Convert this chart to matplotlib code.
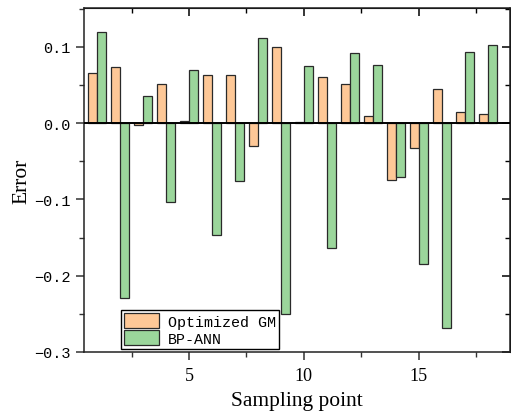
import numpy as np
import matplotlib
matplotlib.use("Agg")
import matplotlib.pyplot as plt
from matplotlib.ticker import MultipleLocator, FixedLocator

points = np.arange(1, 19)
optimized_gm = [0.066, 0.074, -0.003, 0.051, 0.003, 0.063, 0.063, -0.030, 0.100,
                0.001, 0.061, 0.052, 0.010, -0.074, -0.032, 0.045, 0.014, 0.012]
bp_ann = [0.119, -0.229, 0.035, -0.103, 0.070, -0.146, -0.076, 0.112, -0.250,
          0.075, -0.163, 0.092, 0.076, -0.070, -0.185, -0.269, 0.093, 0.102]
series_labels = ["Optimized GM", "BP-ANN"]
y_ticks = [-0.3, -0.2, -0.1, 0.0, 0.1]
y_tick_labels = ["\u22120.3", "\u22120.2", "\u22120.1", "0.0", "0.1"]
x_ticks = [5, 10, 15]

orange = "#FEC897"
green = "#9BD69B"
edge = "#2a2a2a"

fig = plt.figure(figsize=(5.11, 4.14), dpi=100)
ax = fig.add_axes([84 / 511, 1 - 353 / 414, (510 - 84) / 511, (353 - 9) / 414])

w = 0.4
ax.bar(points - w / 2, optimized_gm, width=w, color=orange, edgecolor=edge,
       linewidth=0.9, label=series_labels[0], zorder=2)
ax.bar(points + w / 2, bp_ann, width=w, color=green, edgecolor=edge,
       linewidth=0.9, label=series_labels[1], zorder=2)
ax.axhline(0, color="black", linewidth=1.4, zorder=3)

ax.set_xlim(0.43, 18.97)
ax.set_ylim(-0.3, 0.151)

ax.xaxis.set_major_locator(FixedLocator(x_ticks))
ax.xaxis.set_minor_locator(MultipleLocator(2.5))
ax.yaxis.set_major_locator(FixedLocator(y_ticks))
ax.yaxis.set_minor_locator(MultipleLocator(0.05))
ax.set_yticklabels(y_tick_labels)
ax.set_xticklabels([str(t) for t in x_ticks])

for lbl in ax.get_yticklabels():
    lbl.set_fontfamily("Liberation Mono")
    lbl.set_fontsize(11)
for lbl in ax.get_xticklabels():
    lbl.set_fontfamily("Liberation Serif")
    lbl.set_fontsize(13)

ax.tick_params(axis="both", which="major", direction="out", length=6, width=1.1,
               color="#333333")
ax.tick_params(axis="both", which="minor", direction="out", length=3.5, width=1.0,
               color="#333333")
ax.tick_params(axis="x", which="major", pad=4.5)

# mirrored, inward ticks on the top and right
top = ax.secondary_xaxis("top")
top.xaxis.set_major_locator(FixedLocator(x_ticks))
top.xaxis.set_minor_locator(MultipleLocator(2.5))
top.tick_params(which="major", direction="in", length=6, width=1.1, labeltop=False)
top.tick_params(which="minor", direction="in", length=3.5, width=1.0)
top.set_xticklabels([])
right = ax.secondary_yaxis("right")
right.yaxis.set_major_locator(FixedLocator(y_ticks))
right.yaxis.set_minor_locator(MultipleLocator(0.05))
right.tick_params(which="major", direction="in", length=6, width=1.1)
right.tick_params(which="minor", direction="in", length=3.5, width=1.0)
right.set_yticklabels([])

for s in ax.spines.values():
    s.set_linewidth(1.1)
    s.set_color("#222222")

ax.set_xlabel("Sampling point", fontfamily="Liberation Serif", fontsize=15.5)
ax.set_ylabel("Error", fontfamily="Liberation Serif", fontsize=15.5)
ax.xaxis.set_label_coords(0.5, -0.113)
ax.yaxis.set_label_coords(-0.124, 0.5)

leg = ax.legend(loc="lower left", bbox_to_anchor=(0.087, 0.009), frameon=True,
                fancybox=False, edgecolor="black", framealpha=1,
                prop={"family": "Liberation Mono", "size": 10.8},
                handlelength=2.33, handleheight=1.13, handletextpad=0.6,
                borderpad=0.2, labelspacing=0.13, borderaxespad=0.0)
leg.get_frame().set_linewidth(1.0)

fig.savefig("out.png", dpi=100)
